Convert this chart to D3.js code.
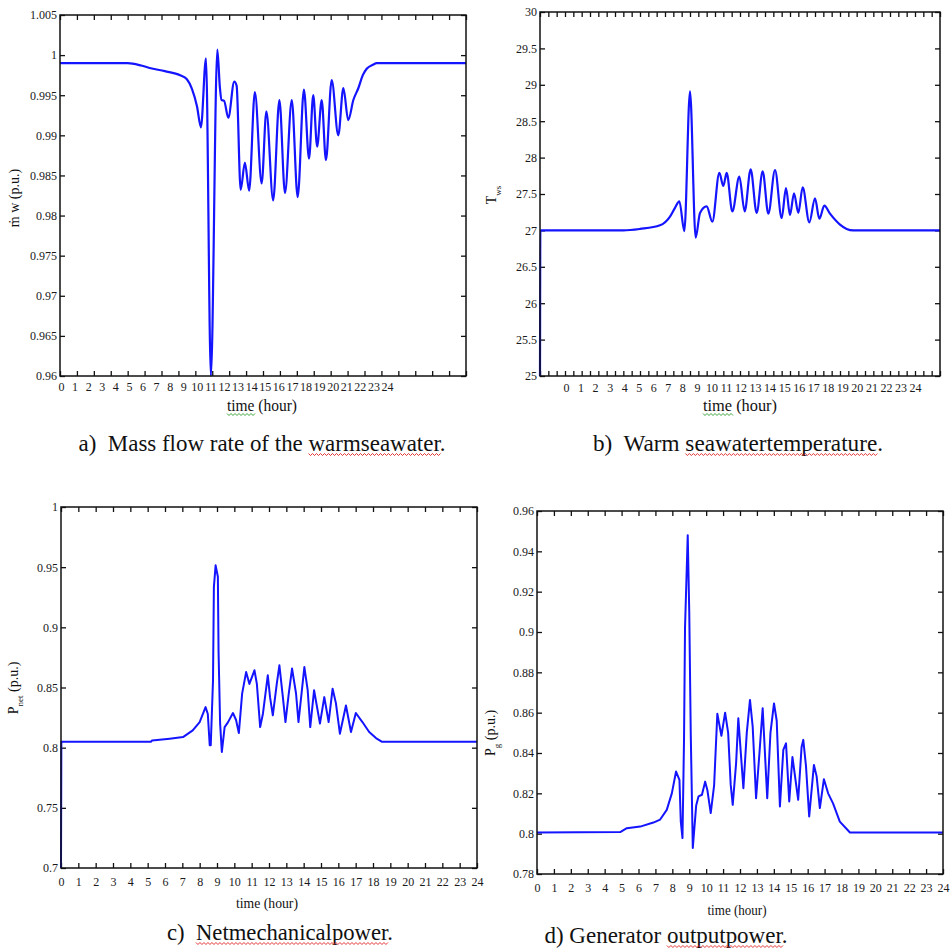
<!DOCTYPE html>
<html>
<head>
<meta charset="utf-8">
<script src="https://cdn.jsdelivr.net/npm/d3@7"></script>
<style>
  body { margin: 0; background: #fff; }
  svg { display: block; }
  svg text { font-family: "Liberation Serif", "Times New Roman", "DejaVu Serif", serif !important; }
</style>
</head>
<body>
<svg id="fig" width="950" height="948"></svg>
<script>
// ---- data ----
const hourTicks = [0, 1, 2, 3, 4, 5, 6, 7, 8, 9, 10, 11, 12, 13, 14, 15, 16, 17, 18, 19, 20, 21, 22, 23, 24];

// a) mass flow rate of warm seawater (p.u.)
const hoursA = [0, 4.0, 4.8, 5.3, 6.2, 7.1, 7.5, 7.8, 8.1, 8.33, 8.63, 8.92, 9.3, 9.45, 9.55, 9.7, 9.95,
  10.3, 10.44, 10.68, 10.93, 11.18, 11.52, 11.92, 12.2, 12.6, 12.97, 13.3, 13.7, 14.05, 14.42, 14.72,
  14.97, 15.2, 15.47, 15.72, 16.06, 16.45, 16.75, 17.04, 17.34, 17.64, 17.9, 18.13, 18.5, 18.72, 24];
const flowA = [0.999, 0.999, 0.9987, 0.9984, 0.998, 0.9975, 0.997, 0.9958, 0.9936, 0.991, 0.9996, 0.960,
  1.0007, 0.996, 0.9944, 0.9943, 0.9922, 0.9967, 0.9962, 0.9832, 0.9866, 0.9831, 0.9954, 0.984, 0.993,
  0.9819, 0.9944, 0.9828, 0.9944, 0.9823, 0.9957, 0.9871, 0.995, 0.9886, 0.9944, 0.9869, 0.9969, 0.990,
  0.9959, 0.9919, 0.9944, 0.9959, 0.9975, 0.9983, 0.9988, 0.999, 0.999];
const yTicksA = [0.96, 0.965, 0.97, 0.975, 0.98, 0.985, 0.99, 0.995, 1, 1.005];

// b) warm seawater temperature
const hoursB = [0, 0.02, 5.0, 6.0, 7.2, 7.8, 8.1, 8.36, 8.66, 9.0, 9.34, 9.6, 10.0, 10.34, 10.76, 11.0,
  11.2, 11.54, 11.96, 12.28, 12.64, 13.0, 13.36, 13.7, 14.1, 14.5, 14.76, 15.0, 15.24, 15.5, 15.76, 16.16,
  16.5, 16.76, 17.06, 17.4, 18.0, 18.4, 18.8, 24];
const tempB = [25, 27, 27, 27.02, 27.07, 27.19, 27.31, 27.4, 26.99, 28.91, 26.9, 27.24, 27.33, 27.12,
  27.79, 27.61, 27.79, 27.26, 27.74, 27.26, 27.84, 27.24, 27.81, 27.23, 27.83, 27.17, 27.58, 27.21, 27.51,
  27.24, 27.59, 27.11, 27.44, 27.16, 27.34, 27.23, 27.08, 27.02, 27.0, 27.0];
const yTicksB = [25, 25.5, 26, 26.5, 27, 27.5, 28, 28.5, 29, 29.5, 30];

// c) net mechanical power (p.u.)
const hoursC = [0, 0.02, 5.2, 5.25, 6.27, 7.04, 7.6, 8.0, 8.34, 8.47, 8.58, 8.64, 8.77, 8.82, 8.92, 9.05,
  9.09, 9.18, 9.28, 9.44, 9.63, 9.92, 10.1, 10.26, 10.45, 10.68, 10.87, 11.16, 11.3, 11.49, 11.65, 11.93,
  12.06, 12.22, 12.45, 12.6, 12.8, 12.95, 13.14, 13.33, 13.56, 13.7, 13.9, 14.04, 14.23, 14.38, 14.6,
  14.94, 15.19, 15.44, 15.67, 15.86, 16.09, 16.44, 16.73, 17.01, 17.39, 17.78, 18.17, 18.5, 24];
const pnetC = [0.7, 0.805, 0.805, 0.806, 0.8075, 0.8088, 0.8144, 0.8213, 0.8337, 0.828, 0.802, 0.802,
  0.856, 0.9335, 0.9515, 0.942, 0.8795, 0.82, 0.7964, 0.8171, 0.821, 0.8288, 0.823, 0.8121, 0.8449, 0.8628,
  0.853, 0.8643, 0.853, 0.8171, 0.8282, 0.8601, 0.842, 0.8269, 0.8532, 0.8684, 0.842, 0.8213, 0.845,
  0.8657, 0.845, 0.8213, 0.848, 0.867, 0.848, 0.8171, 0.8477, 0.82, 0.842, 0.8213, 0.849, 0.837, 0.8116,
  0.835, 0.813, 0.8288, 0.8213, 0.813, 0.808, 0.805, 0.805];
const yTicksC = [0.7, 0.75, 0.8, 0.85, 0.9, 0.95, 1];

// d) generator output power (p.u.)
const hoursD = [0, 4.92, 5.31, 6.1, 6.88, 7.28, 7.67, 7.97, 8.22, 8.42, 8.5, 8.6, 8.69, 8.75, 8.91, 9.0,
  9.09, 9.21, 9.41, 9.55, 9.75, 9.94, 10.07, 10.27, 10.47, 10.66, 10.9, 11.12, 11.3, 11.45, 11.57, 11.77,
  11.9, 12.2, 12.4, 12.59, 12.75, 12.95, 13.15, 13.34, 13.61, 13.8, 14.01, 14.17, 14.36, 14.56, 14.72,
  14.91, 15.1, 15.44, 15.64, 15.74, 15.9, 16.09, 16.37, 16.53, 16.72, 16.96, 17.21, 17.5, 17.9, 18.5, 24];
const pgD = [0.8006, 0.8008, 0.8027, 0.8035, 0.8055, 0.807, 0.8118, 0.82, 0.8308, 0.8267, 0.806, 0.7978,
  0.846, 0.902, 0.948, 0.91, 0.849, 0.7929, 0.814, 0.8185, 0.8193, 0.8258, 0.8217, 0.8102, 0.824, 0.8595,
  0.8485, 0.86, 0.85, 0.8243, 0.8143, 0.835, 0.8572, 0.8225, 0.85, 0.8663, 0.8531, 0.8176, 0.84, 0.8622,
  0.8176, 0.85, 0.8646, 0.856, 0.8135, 0.8415, 0.8448, 0.816, 0.838, 0.8168, 0.843, 0.8465, 0.8336, 0.8085,
  0.8341, 0.8284, 0.8127, 0.827, 0.82, 0.815, 0.806, 0.8006, 0.8006];
const yTicksD = [0.78, 0.8, 0.82, 0.84, 0.86, 0.88, 0.9, 0.92, 0.94, 0.96];

const serif = '"Liberation Serif", "Times New Roman", "DejaVu Serif", serif';
const svg = d3.select('#fig').attr('font-family', serif);

// the tick labels in a) and b) do not sit under the tick marks in the original
const panels = [
  { hours: hoursA, values: flowA, yTicks: yTicksA, box: [60, 15, 466, 376],
    marks: hourTicks, labelRange: [61, 387], labelPad: 6, font: 12, curve: d3.curveMonotoneX, width: 2.2,
    yLab: { x: 19, y: 198, parts: [['ṁ', 0], [' w', 0], [' (p.u.)', 0]] },
    xLab: { x: 262, y: 411, len: 70, size: 16, text: 'time (hour)', mark: 'time' },
    caption: { x: 262, y: 451, len: 367, text: 'a)  Mass flow rate of the warmseawater.', mark: 'warmseawater' } },
  { hours: hoursB, values: tempB, yTicks: yTicksB, box: [540, 12, 940, 376],
    marks: d3.range(0, 24.5, 0.5), labelRange: [566, 915], labelPad: 7, font: 12, curve: d3.curveMonotoneX, width: 2.2,
    yLab: { x: 496, y: 195, parts: [['T', 0], ['ws', 1]] },
    xLab: { x: 740, y: 411, len: 74, size: 16, text: 'time (hour)', mark: 'time' },
    caption: { x: 738, y: 451, len: 290, text: 'b)  Warm seawatertemperature.', mark: 'seawatertemperature' } },
  { hours: hoursC, values: pnetC, yTicks: yTicksC, box: [61, 507, 477, 868],
    marks: hourTicks, labelRange: [61, 477], labelPad: 9, font: 12, curve: d3.curveLinear, width: 2,
    yLab: { x: 18, y: 688, parts: [['P', 0], ['net', 1], [' (p.u.)', 0]] },
    xLab: { x: 267, y: 908, len: 62, size: 14, text: 'time (hour)', mark: null },
    caption: { x: 280, y: 940, len: 226, text: 'c)  Netmechanicalpower.', mark: 'Netmechanicalpower' } },
  { hours: hoursD, values: pgD, yTicks: yTicksD, box: [537, 511, 943, 874],
    marks: hourTicks, labelRange: [537, 943], labelPad: 9, font: 12, curve: d3.curveLinear, width: 2,
    yLab: { x: 495, y: 733, parts: [['P', 0], ['g', 1], [' (p.u.)', 0]] },
    xLab: { x: 737, y: 915, len: 59, size: 14, text: 'time (hour)', mark: null },
    caption: { x: 666, y: 943, len: 243, text: 'd) Generator outputpower.', mark: 'outputpower' } }
];

function wavyLine(x0, x1, y, color) {
  const p = d3.path();
  p.moveTo(x0, y);
  let k = 0;
  for (let x = x0; x < x1; x += 2, k++) p.lineTo(x + 2, y + (k % 2 ? 0 : 2));
  svg.append('path').attr('d', p.toString()).attr('fill', 'none')
    .attr('stroke', color).attr('stroke-width', 0.9);
}

// one text, with a wavy underline under the marked word (spell-check style)
function markedText(cx, y, len, size, str, mark, color) {
  const t = svg.append('text')
    .attr('x', cx).attr('y', y)
    .attr('text-anchor', 'middle')
    .attr('font-family', serif)
    .attr('textLength', len).attr('lengthAdjust', 'spacingAndGlyphs')
    .style('white-space', 'pre')
    .style('font-size', size + 'px')
    .attr('fill', '#111')
    .text(str);
  if (mark) {
    const start = str.indexOf(mark), end = start + mark.length - 1;
    const node = t.node();
    const x0 = node.getStartPositionOfChar(start).x;
    const x1 = node.getEndPositionOfChar(end).x;
    wavyLine(x0, x1, y + 2.5, color);
  }
}

panels.forEach(p => {
  const [x0, y0, x1, y1] = p.box;
  const x = d3.scaleLinear().domain([0, 24]).range([x0, x1]);
  const y = d3.scaleLinear().domain(d3.extent(p.yTicks)).range([y1, y0]);
  const lab = d3.scaleLinear().domain([0, 24]).range(p.labelRange);
  const g = svg.append('g');

  // inward tick marks on all four sides
  const noText = () => '';
  g.append('g').attr('transform', `translate(0,${y1})`)
    .call(d3.axisBottom(x).tickValues(p.marks).tickSizeInner(-5).tickSizeOuter(0).tickFormat(noText));
  g.append('g').attr('transform', `translate(0,${y0})`)
    .call(d3.axisTop(x).tickValues(p.marks).tickSizeInner(-5).tickSizeOuter(0).tickFormat(noText));
  g.append('g').attr('transform', `translate(${x0},0)`)
    .call(d3.axisLeft(y).tickValues(p.yTicks).tickSizeInner(-5).tickSizeOuter(0).tickFormat(noText));
  g.append('g').attr('transform', `translate(${x1},0)`)
    .call(d3.axisRight(y).tickValues(p.yTicks).tickSizeInner(-5).tickSizeOuter(0).tickFormat(noText));
  g.selectAll('.domain').remove();
  g.selectAll('.tick line').attr('stroke', '#111').attr('stroke-width', 1.3);
  g.selectAll('.tick text').remove();

  // tick labels
  const xl = g.append('g').attr('transform', `translate(0,${y1})`)
    .call(d3.axisBottom(lab).tickValues(hourTicks).tickSize(0).tickPadding(p.labelPad).tickFormat(d => String(d)));
  const yl = g.append('g').attr('transform', `translate(${x0},0)`)
    .call(d3.axisLeft(y).tickValues(p.yTicks).tickSize(0).tickPadding(3).tickFormat(d => String(d)));
  [xl, yl].forEach(a => {
    a.attr('font-family', serif).attr('font-size', p.font);
    a.select('.domain').remove();
    a.selectAll('text').attr('fill', '#1a1a1a');
  });

  // series
  const line = d3.line().x((d, i) => x(p.hours[i])).y(d => y(d)).curve(p.curve);
  g.append('path').datum(p.values).attr('d', line)
    .attr('fill', 'none').attr('stroke', '#1414ff').attr('stroke-width', p.width)
    .attr('stroke-linejoin', 'round');

  // frame
  g.append('rect').attr('x', x0).attr('y', y0).attr('width', x1 - x0).attr('height', y1 - y0)
    .attr('fill', 'none').attr('stroke', '#111').attr('stroke-width', 1.5);

  // y axis title
  const yt = svg.append('text')
    .attr('transform', `translate(${p.yLab.x},${p.yLab.y}) rotate(-90)`)
    .attr('font-family', serif)
    .attr('text-anchor', 'middle').style('font-size', '14px').attr('fill', '#111');
  p.yLab.parts.forEach(([s, sub]) => {
    const ts = yt.append('tspan').text(s);
    if (sub) ts.attr('baseline-shift', 'sub').style('font-size', '9px');
  });

  // x axis title and caption
  markedText(p.xLab.x, p.xLab.y, p.xLab.len, p.xLab.size, p.xLab.text, p.xLab.mark, '#2a9a2a');
  markedText(p.caption.x, p.caption.y, p.caption.len, 24, p.caption.text, p.caption.mark, '#e02020');
});
</script>
</body>
</html>
